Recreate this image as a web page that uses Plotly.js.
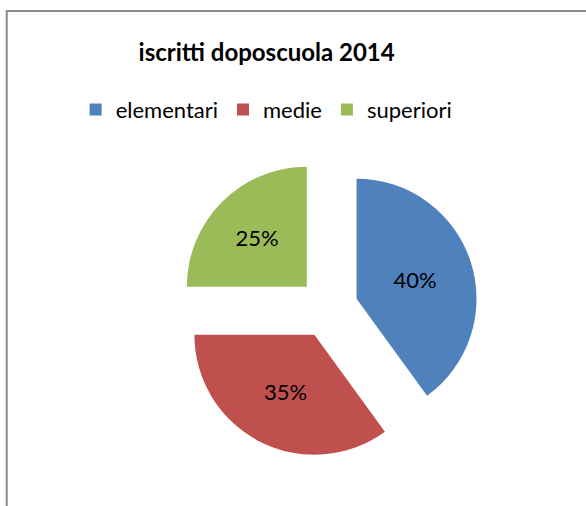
<!DOCTYPE html>
<html><head><meta charset="utf-8">
<script src="https://cdn.plot.ly/plotly-3.0.1.min.js"></script>
<style>body{margin:0;background:#fff}#c{width:586px;height:506px}</style>
</head><body><div id="c"></div>
<script>
const categories = ["elementari", "medie", "superiori"];
const values = [40, 35, 25];
const colors = ["#4F81BD", "#C0504D", "#9BBB59"];
const titleText = "iscritti doposcuola 2014";

const FONT = "Lato, 'Open Sans', sans-serif";
const trace = {
  type: "pie",
  labels: categories,
  values: values,
  sort: false,
  direction: "clockwise",
  rotation: 0,
  pull: [0.25, 0.25, 0.25],
  marker: {colors: colors, line: {width: 0}},
  textinfo: "percent",
  textposition: "inside",
  insidetextorientation: "horizontal",
  insidetextfont: {family: FONT, size: 22, color: "#000"},
  hoverinfo: "label+percent",
  domain: {x: [0.3038, 0.8157], y: [0.0949, 0.6877]}
};
const layout = {
  width: 586, height: 506,
  margin: {l: 0, r: 0, t: 0, b: 0},
  paper_bgcolor: "#fff",
  title: {text: "<b>" + titleText + "</b>", font: {family: FONT, size: 24, color: "#000"},
          x: 0.455, xanchor: "center", y: 0.897, yanchor: "middle", xref: "paper", yref: "paper"},
  showlegend: true,
  legend: {orientation: "h", x: 0.455, xanchor: "center", y: 0.783, yanchor: "middle",
           font: {family: FONT, size: 22, color: "#000"}, traceorder: "normal"},
  shapes: [{type: "rect", xref: "paper", yref: "paper", x0: 0.0115, x1: 1.2, y0: -0.2, y1: 0.9782,
            line: {color: "#8a8a8a", width: 2}, fillcolor: "rgba(0,0,0,0)"}]
};
Plotly.newPlot("c", [trace], layout, {displayModeBar: false});
</script></body></html>
